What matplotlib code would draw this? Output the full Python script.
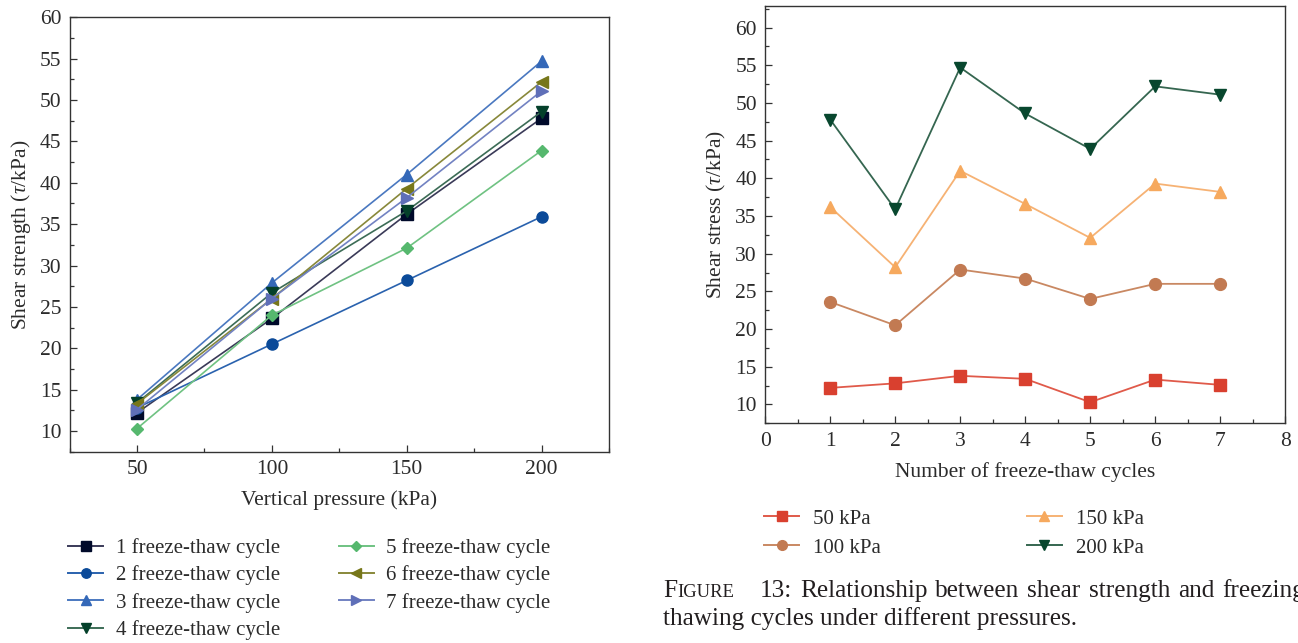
import matplotlib
matplotlib.use("Agg")
import matplotlib.pyplot as plt
from matplotlib.ticker import MultipleLocator
from matplotlib.lines import Line2D

plt.rcParams['font.family'] = ['Liberation Serif', 'DejaVu Serif']
plt.rcParams['mathtext.fontset'] = 'custom'
plt.rcParams['mathtext.rm'] = 'Liberation Serif'
plt.rcParams['mathtext.it'] = 'Liberation Serif:italic'

# data: shear strength (kPa) per pressure level, for freeze-thaw cycles 1..7
cycles = [1, 2, 3, 4, 5, 6, 7]
pressures = [50, 100, 150, 200]
tau_50 = [12.2, 12.8, 13.8, 13.4, 10.3, 13.3, 12.6]
tau_100 = [23.6, 20.5, 27.9, 26.7, 24.0, 26.0, 26.0]
tau_150 = [36.2, 28.2, 41.0, 36.6, 32.1, 39.3, 38.2]
tau_200 = [47.8, 35.9, 54.7, 48.6, 43.9, 52.2, 51.1]

cycle_labels = ["%d freeze-thaw cycle" % c for c in cycles]
pressure_labels = ["50 kPa", "100 kPa", "150 kPa", "200 kPa"]

W, H = 1298, 643
TXT = '#2b2b2b'
FS = 15.5
fig = plt.figure(figsize=(W / 100, H / 100), dpi=100)

# ---- left panel: strength vs vertical pressure
ax1 = fig.add_axes([69.6 / W, 1 - 451.7 / H, (609 - 69.6) / W, (451.7 - 17.3) / H])
left_styles = [
    ('s', '#000a2a', '#3a3a58'),
    ('o', '#0b4a99', '#2a62ae'),
    ('^', '#3468b8', '#4a78c0'),
    ('v', '#04402a', '#3c6c56'),
    ('D', '#56b86e', '#6fc282'),
    ('<', '#77771a', '#88883a'),
    ('>', '#5f6fb8', '#7282c2'),
]
by_pressure = [tau_50, tau_100, tau_150, tau_200]
left_handles = []
for i, (m, mc, lc) in enumerate(left_styles):
    vals = [row[i] for row in by_pressure]
    ms = 6.5 if m == 'D' else 8
    ax1.plot(pressures, vals, color=lc, lw=1.2, marker=m, ms=ms,
             mfc=mc, mec=mc, zorder=3)
    left_handles.append(Line2D([], [], color=lc, lw=1.4, marker=m,
                               ms=ms * 0.85, mfc=mc, mec=mc))

ax1.set_xlim(25, 225)
ax1.set_ylim(7.5, 60)
ax1.xaxis.set_major_locator(MultipleLocator(50))
ax1.xaxis.set_minor_locator(MultipleLocator(25))
ax1.yaxis.set_major_locator(MultipleLocator(5))
ax1.yaxis.set_minor_locator(MultipleLocator(2.5))
ax1.set_xticks([50, 100, 150, 200])
ax1.set_xlabel("Vertical pressure (kPa)", fontsize=FS, color=TXT, labelpad=8)
ax1.set_ylabel(r"Shear strength ($\tau$/kPa)", fontsize=FS, color=TXT, labelpad=5)

# ---- right panel: strength vs number of cycles
ax2 = fig.add_axes([765.2 / W, 1 - 423.3 / H, (1285.2 - 765.2) / W, (423.3 - 5.7) / H])
right_styles = [
    (tau_50, 's', '#d9402f', '#e05a4a'),
    (tau_100, 'o', '#c27a52', '#c98862'),
    (tau_150, '^', '#f6a95e', '#f6b274'),
    (tau_200, 'v', '#08472e', '#356650'),
]
right_handles = []
for vals, m, mc, lc in right_styles:
    ax2.plot(cycles, vals, color=lc, lw=1.3, marker=m, ms=8.5,
             mfc=mc, mec=mc, zorder=3)
    right_handles.append(Line2D([], [], color=lc, lw=1.4, marker=m,
                                ms=7, mfc=mc, mec=mc))

ax2.set_xlim(0, 8)
ax2.set_ylim(7.5, 62.9)
ax2.xaxis.set_major_locator(MultipleLocator(1))
ax2.xaxis.set_minor_locator(MultipleLocator(0.5))
ax2.yaxis.set_major_locator(MultipleLocator(5))
ax2.yaxis.set_minor_locator(MultipleLocator(2.5))
ax2.set_yticks(range(10, 61, 5))
ax2.set_xlabel("Number of freeze-thaw cycles", fontsize=FS, color=TXT, labelpad=8)
ax2.set_ylabel(r"Shear stress ($\tau$/kPa)", fontsize=FS, color=TXT, labelpad=5)

for ax in (ax1, ax2):
    for s in ax.spines.values():
        s.set_color('#333333')
        s.set_linewidth(1.0)
    ax.tick_params(which='both', direction='in', top=False, right=False,
                   colors='#333333', labelcolor=TXT, labelsize=FS)
    ax.tick_params(which='major', length=5, width=0.9, pad=6)
    ax.tick_params(which='minor', length=3, width=0.9)

# ---- legends
fig.legend(left_handles, cycle_labels, loc='upper left',
           bbox_to_anchor=(68 / W, 1 - 538 / H), ncol=2, frameon=False,
           fontsize=15, handlelength=1.7, handletextpad=0.6,
           columnspacing=2.8, labelspacing=0.36, borderpad=0,
           borderaxespad=0, labelcolor=TXT)
fig.legend(right_handles, pressure_labels, loc='upper left',
           bbox_to_anchor=(764 / W, 1 - 509 / H), ncol=2, frameon=False,
           fontsize=15, handlelength=1.7, handletextpad=0.65,
           columnspacing=7.0, labelspacing=0.45, borderpad=0,
           borderaxespad=0, labelcolor=TXT)

# ---- caption (small caps "Figure", first line justified and cut by the edge)
renderer = fig.canvas.get_renderer()
line2 = "thawing cycles under different pressures."
probe = fig.text(0, 0, line2, fontsize=16)
CAP = 16 * 413 / probe.get_window_extent(renderer).width
probe.remove()


def put(x, y, s, size):
    t = fig.text(x / W, 1 - y / H, s, fontsize=size, color='#231f20',
                 va='baseline', ha='left')
    return t.get_window_extent(renderer).x1


x = put(663, 597, "F", CAP)
put(x + 0.5, 597, "IGURE", CAP * 0.74)
words = ["13:", "Relationship", "between", "shear", "strength", "and", "freezing-"]
widths = []
for w in words:
    t = fig.text(0, 0, w, fontsize=CAP)
    widths.append(t.get_window_extent(renderer).width)
    t.remove()
start = 760
gap = (1222 - start - sum(widths[:-1])) / (len(words) - 1)
pos = start
for w, wd in zip(words, widths):
    put(pos, 597, w, CAP)
    pos += wd + gap
put(663, 624.5, line2, CAP)

fig.savefig("out.png", dpi=100)
